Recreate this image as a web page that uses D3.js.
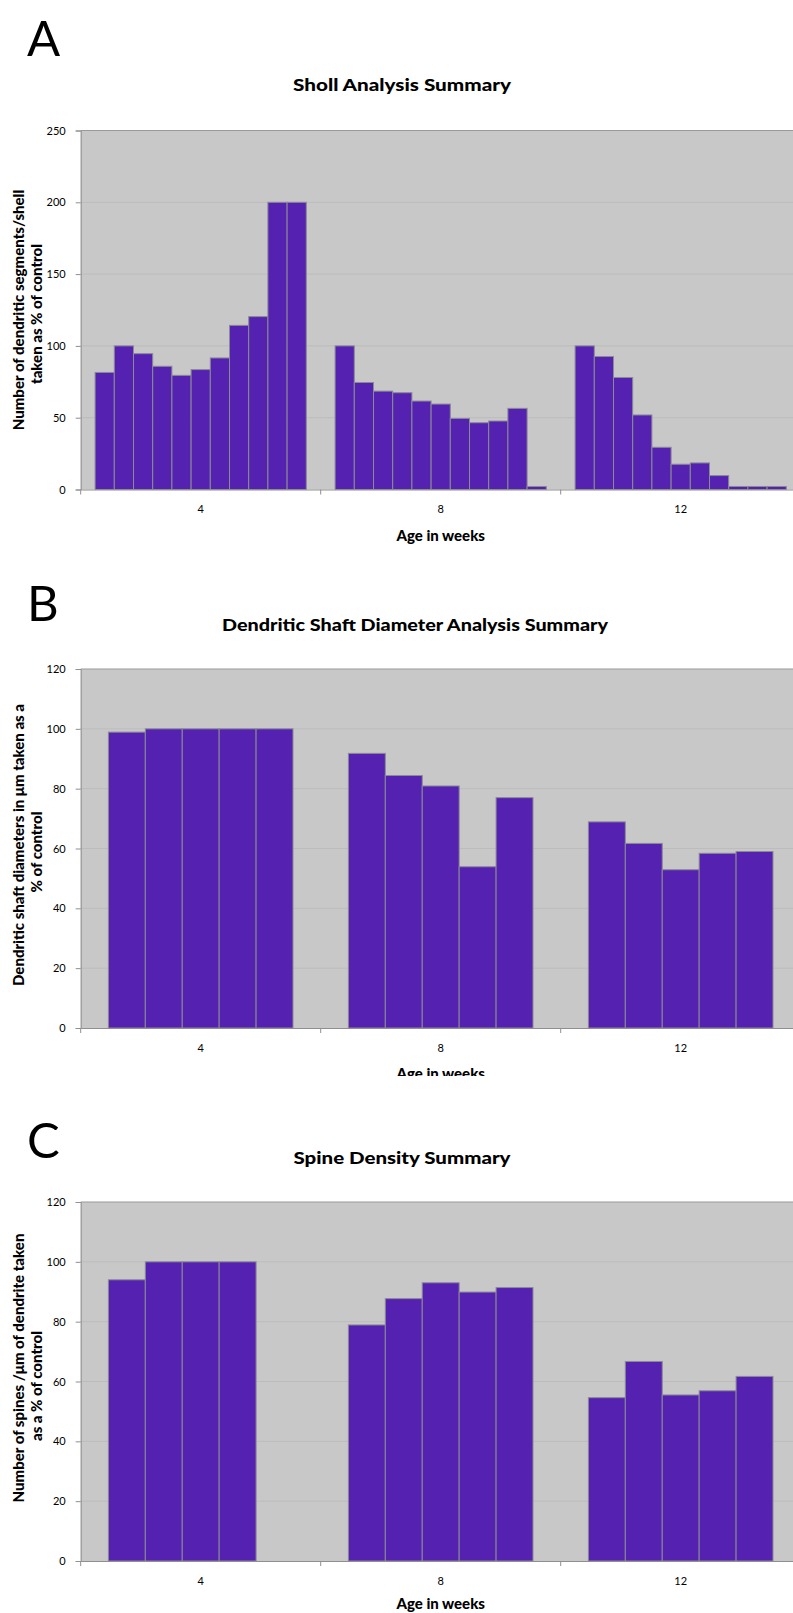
<!DOCTYPE html>
<html><head><meta charset="utf-8">
<script src="https://cdn.jsdelivr.net/npm/d3@7"></script>
<style>
html,body{margin:0;padding:0;background:#fff;}
svg{display:block;}
text{font-family:Lato,"Noto Sans","DejaVu Sans",sans-serif;fill:#000;}
</style></head>
<body>
<script>
// ---------- data ----------
const ageCategories = ["4", "8", "12"];

// Panel A: Sholl analysis (11 shells per age)
const shollWeek4  = [81.5, 100, 94.6, 85.8, 79.5, 83.5, 91.6, 114.3, 120.4, 200, 200];
const shollWeek8  = [100, 74.5, 68.5, 67.4, 61.6, 59.5, 49.5, 46.5, 47.7, 56.5, 2.1];
const shollWeek12 = [100, 92.6, 78, 51.9, 29.4, 17.6, 18.5, 9.7, 2.1, 2.1, 2.1];
const shollTicks = [0, 50, 100, 150, 200, 250];

// Panel B: dendritic shaft diameter
const shaftWeek4  = [98.9, 100, 100, 100, 100];
const shaftWeek8  = [91.8, 84.4, 80.9, 53.9, 77];
const shaftWeek12 = [68.9, 61.7, 52.9, 58.4, 59];
const shaftTicks = [0, 20, 40, 60, 80, 100, 120];

// Panel C: spine density
const spineWeek4  = [94, 100, 100, 100, null];
const spineWeek8  = [78.9, 87.7, 93, 89.9, 91.4];
const spineWeek12 = [54.6, 66.7, 55.5, 56.9, 61.7];
const spineTicks = [0, 20, 40, 60, 80, 100, 120];

const W = 793, H = 1613;
const svg = d3.select("body").append("svg").attr("width", W).attr("height", H);

const BAR = "#5521b1", BG = "#c8c8c8", GRID = "#bcbcbc", AX = "#8f8f8f";

function panel(o) {
  const g = svg.append("g");
  const left = 80.7, right = 800.7;
  const x = d3.scaleBand().domain(ageCategories).range([left, right]).padding(0);
  const y = d3.scaleLinear().domain([0, o.max]).range([o.bottom, o.top]);
  const n = o.groups[0].length;
  const xs = d3.scaleBand().domain(d3.range(n)).range([0, x.bandwidth()]).paddingInner(0).paddingOuter(0.75);

  // letter
  g.append("text").attr("x", 27).attr("y", o.letterY).attr("font-size", 49).attr("font-weight", 400).text(o.letter);
  // title
  g.append("text").attr("x", o.titleX).attr("y", o.titleY).attr("text-anchor", "middle")
    .attr("font-size", 16).attr("font-weight", 900)
    .attr("textLength", o.titleLen).attr("lengthAdjust", "spacingAndGlyphs").text(o.title);

  // plot background
  g.append("rect").attr("x", left).attr("y", o.top).attr("width", right - left).attr("height", o.bottom - o.top).attr("fill", BG);
  // gridlines
  g.selectAll(".grid").data(o.ticks.filter(t => t > 0 && t < o.max)).join("line")
    .attr("x1", left).attr("x2", right).attr("y1", d => y(d)).attr("y2", d => y(d))
    .attr("stroke", GRID).attr("stroke-width", 1);
  g.append("line").attr("x1", left).attr("x2", right).attr("y1", o.top).attr("y2", o.top).attr("stroke", "#9a9a9a").attr("stroke-width", 1.2);

  // bars
  o.groups.forEach((vals, gi) => {
    const cat = ageCategories[gi];
    g.selectAll(null).data(vals.map((v, i) => ({v, i})).filter(d => d.v != null)).join("rect")
      .attr("x", d => x(cat) + xs(d.i))
      .attr("width", xs.bandwidth())
      .attr("y", d => y(d.v))
      .attr("height", d => y(0) - y(d.v))
      .attr("fill", BAR).attr("stroke", "#8a8a94").attr("stroke-width", 1);
  });

  // y axis
  const ya = g.append("g").attr("transform", `translate(${left},0)`)
    .call(d3.axisLeft(y).tickValues(o.ticks).tickSize(5).tickPadding(10).tickFormat(d3.format("d")));
  ya.select(".domain").attr("stroke", AX);
  ya.selectAll(".tick line").attr("stroke", AX);
  ya.selectAll(".tick text").attr("font-size", 11).attr("font-family", "Lato, sans-serif");

  // x axis
  const xa = g.append("g").attr("transform", `translate(0,${o.bottom})`)
    .call(d3.axisBottom(x).tickSize(0).tickPadding(16));
  xa.select(".domain").attr("stroke", AX);
  xa.selectAll(".tick text").attr("font-size", 11).attr("font-family", "Lato, sans-serif");
  g.selectAll(null).data(ageCategories.map(c => x(c)).concat([right])).join("line")
    .attr("x1", d => d).attr("x2", d => d).attr("y1", o.bottom).attr("y2", o.bottom + 5)
    .attr("stroke", AX);

  // x title
  g.append("text").attr("x", (left + right) / 2).attr("y", o.xTitleY || (o.bottom + 51)).attr("text-anchor", "middle")
    .attr("font-size", 15).attr("font-weight", 900).text("Age in weeks");

  // y title (two lines)
  o.ylab.forEach((t, i) => {
    g.append("text").attr("transform", `translate(${o.ylabX[i]},${o.ylabC[i]}) rotate(-90)`)
      .attr("text-anchor", "middle").attr("font-size", 15).attr("font-weight", 900).text(t);
  });
}

panel({
  letter: "A", letterY: 56,
  title: "Sholl Analysis Summary", titleX: 402, titleY: 91, titleLen: 218,
  top: 130.5, bottom: 489.5, max: 250, ticks: shollTicks,
  groups: [shollWeek4, shollWeek8, shollWeek12],
  ylab: ["Number of dendritic segments/shell", "taken as % of control"],
  ylabX: [24, 42], ylabC: [310, 314]
});

panel({
  letter: "B", letterY: 621,
  title: "Dendritic Shaft Diameter Analysis Summary", titleX: 415, titleY: 631, titleLen: 386,
  top: 669, bottom: 1028, max: 120, ticks: shaftTicks,
  groups: [shaftWeek4, shaftWeek8, shaftWeek12],
  ylab: ["Dendritic shaft diameters in \u03bcm taken as a", "% of control"],
  ylabX: [24, 42], ylabC: [845, 852]
});

// cut-off of the panel B x title as in the source
svg.append("rect").attr("x", 0).attr("y", 1076).attr("width", W).attr("height", 30).attr("fill", "#fff");

panel({
  letter: "C", letterY: 1158,
  title: "Spine Density Summary", titleX: 402, titleY: 1164, titleLen: 217,
  top: 1202, bottom: 1561, max: 120, ticks: spineTicks,
  groups: [spineWeek4, spineWeek8, spineWeek12],
  ylab: ["Number of spines /\u03bcm of dendrite taken", "as a % of control"],
  ylabX: [24, 42], ylabC: [1368, 1386],
  xTitleY: 1609
});
</script>
</body></html>
